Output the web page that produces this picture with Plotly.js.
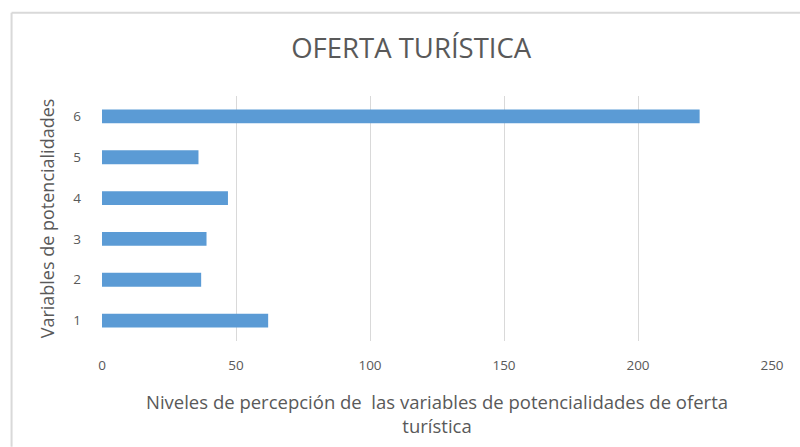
<!DOCTYPE html>
<html>
<head>
<meta charset="utf-8">
<script src="https://cdn.plot.ly/plotly-3.0.1.min.js"></script>
<style>html,body{margin:0;padding:0;background:#fff;}#chart{width:800px;height:447px;}</style>
</head>
<body>
<div id="chart"></div>
<script>
const categories = ["1", "2", "3", "4", "5", "6"];
const values = [62, 37, 39, 47, 36, 223];
const xTicks = [0, 50, 100, 150, 200, 250];
const titleText = "OFERTA TURÍSTICA";
const xTitle = "Niveles de percepción de  las variables de potencialidades de oferta<br>turística";
const yTitle = "Variables de potencialidades";

const fontFam = "'Open Sans', sans-serif";
const grey = "#595959";

const L = 101.5, R = 772, T = 95.5, B = 341;
const W = 800, H = 447;
const px = v => (v - L) / (R - L);
const py = v => (B - v) / (B - T);

Plotly.newPlot("chart", [{
  type: "bar",
  orientation: "h",
  y: categories,
  x: values,
  marker: {color: "#5B9BD5"},
  hoverinfo: "x+y"
}], {
  width: W, height: H,
  margin: {l: L, r: W - R, t: T, b: H - B, pad: 0},
  paper_bgcolor: "#fff",
  plot_bgcolor: "#fff",
  bargap: 0.66,
  showlegend: false,
  title: {
    text: titleText,
    font: {family: fontFam, size: 27.5, color: grey},
    x: 0.514, xref: "container", xanchor: "center",
    y: 1 - 48 / H, yref: "container", yanchor: "middle"
  },
  xaxis: {
    range: [0, 250],
    tickvals: xTicks,
    ticktext: xTicks.map(String),
    showgrid: true, gridcolor: "#D9D9D9", gridwidth: 1,
    zeroline: false, showline: false, ticks: "",
    ticklabelstandoff: 14,
    tickfont: {family: fontFam, size: 13.5, color: grey},
    title: {text: xTitle, font: {family: fontFam, size: 18.5, color: grey}, standoff: 23}
  },
  yaxis: {
    type: "category",
    range: [-0.5, 5.5],
    showgrid: false, zeroline: false, showline: false, ticks: "",
    ticklabelstandoff: 20,
    tickfont: {family: fontFam, size: 13.5, color: grey},
    title: {text: yTitle, font: {family: fontFam, size: 18, color: grey}, standoff: 13}
  },
  shapes: [
    {type: "line", xref: "paper", yref: "paper", x0: px(11), x1: px(800), y0: py(12), y1: py(12), line: {color: "#D9D9D9", width: 2}},
    {type: "line", xref: "paper", yref: "paper", x0: px(11), x1: px(11), y0: py(12), y1: py(447), line: {color: "#D9D9D9", width: 2}}
  ]
}, {displayModeBar: false, staticPlot: true});
</script>
</body>
</html>
